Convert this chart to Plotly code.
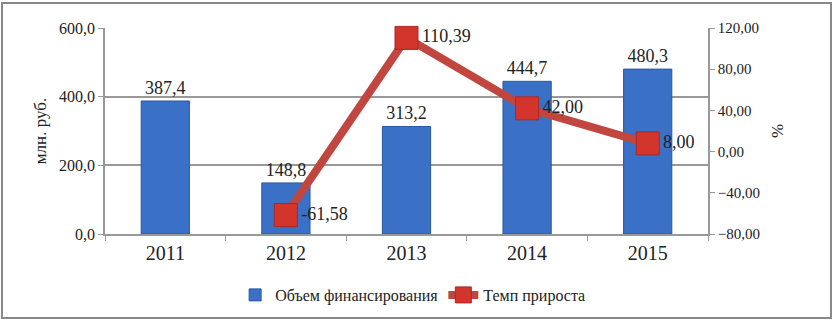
import plotly.graph_objects as go

years = ["2011", "2012", "2013", "2014", "2015"]
funding = [387.4, 148.8, 313.2, 444.7, 480.3]
growth_years = ["2012", "2013", "2014", "2015"]
growth = [-61.58, 110.39, 42.00, 8.00]

FONT = "Liberation Serif, Times New Roman, serif"

fig = go.Figure()
fig.add_trace(go.Bar(
    x=years, y=funding, name="Объем финансирования",
    marker=dict(color="#3a70c6", line=dict(color="#2a589c", width=1)),
    width=0.4,
    text=funding, texttemplate="%{y:.1f}", textposition="outside",
    textfont=dict(family=FONT, size=18, color="#222"),
    cliponaxis=False,
))
fig.add_trace(go.Scatter(
    x=growth_years, y=growth, name="Темп прироста", yaxis="y2",
    mode="lines+markers+text",
    line=dict(color="#c0463f", width=8),
    marker=dict(symbol="square", size=23, color="#d3342b", line=dict(color="#a82a22", width=1)),
    text=growth, texttemplate="%{y:.2f}", textposition="middle right",
    textfont=dict(family=FONT, size=18, color="#222"),
    cliponaxis=False,
))

fig.update_layout(
    width=834, height=321,
    margin=dict(l=105, r=126, t=28, b=87, autoexpand=False),
    paper_bgcolor="white", plot_bgcolor="white",
    separators=", ",
    font=dict(family=FONT, size=15, color="#222"),
    showlegend=True,
    legend=dict(orientation="h", x=0.511, xanchor="center", y=-0.296, yanchor="middle",
                font=dict(family=FONT, size=16)),
    xaxis=dict(type="category", showline=True, linecolor="#999", linewidth=1.5,
               ticks="outside", tickson="boundaries", ticklen=5, tickcolor="#999",
               tickfont=dict(family=FONT, size=20), showgrid=False, automargin=False),
    yaxis=dict(range=[0, 600], tickvals=[0, 200, 400, 600], tickformat=".1f",
               showgrid=True, gridcolor="#999", gridwidth=1.5,
               showline=True, linecolor="#999", linewidth=1.5,
               ticks="outside", ticklen=5, tickcolor="#999", automargin=False,
               title=dict(text="млн. руб.", font=dict(family=FONT, size=17), standoff=8),
               tickfont=dict(family=FONT, size=16), zeroline=False),
    yaxis2=dict(range=[-80, 120], tickvals=[-80, -40, 0, 40, 80, 120], tickformat=".2f",
                overlaying="y", side="right", showgrid=False,
                showline=True, linecolor="#999", linewidth=1.5,
                ticks="outside", ticklen=5, tickcolor="#999", automargin=False,
                title=dict(text="%", font=dict(family=FONT, size=17), standoff=12),
                tickfont=dict(family=FONT, size=15), zeroline=False),
    shapes=[dict(type="rect", xref="paper", yref="paper",
                 x0=-0.1708, x1=1.204, y0=-0.408, y1=1.121,
                 line=dict(color="#888", width=2), fillcolor="rgba(0,0,0,0)", layer="below")],
)

fig.write_html("out.html", config={"displayModeBar": False},
               post_script="document.body.style.margin='0';")
